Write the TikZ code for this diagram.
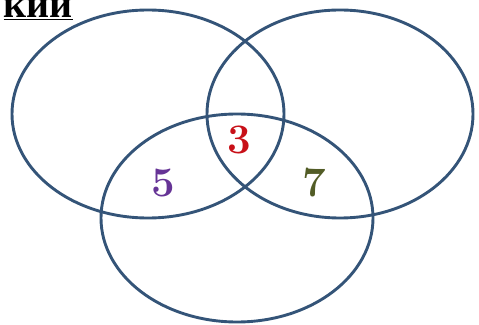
\documentclass[tikz,border=0pt]{standalone}
\usepackage{fontspec}
\newfontfamily\cyrfont{Liberation Serif}
\usetikzlibrary{positioning}
\definecolor{vennline}{RGB}{52,84,120}
\definecolor{numred}{RGB}{200,16,24}
\definecolor{numpurple}{RGB}{102,52,150}
\definecolor{numolive}{RGB}{82,92,38}
\tikzset{
  setline/.style = {draw=vennline, line width=2.9pt},
  num/.style     = {font=\fontsize{42}{42}\selectfont\bfseries, inner sep=0pt}
}
\begin{document}
\begin{tikzpicture}[x=1pt, y=1pt]
\useasboundingbox (0,0) rectangle (479,324);
\clip (0,0) rectangle (479,324);

% heading, cut by the frame
\node[anchor=base east, inner sep=0pt, font=\cyrfont\bfseries\fontsize{40}{40}\selectfont]
  (head) at (73,306) {\underline{кии}};

% the three sets
\draw[setline] (148,210) ellipse [x radius=136pt, y radius=104pt];
\draw[setline] (340,210) ellipse [x radius=133pt, y radius=104pt];
\draw[setline] (237,106) ellipse [x radius=136pt, y radius=104pt];

\node[num, text=numred]    (n3) at (239,184) {3};
\node[num, text=numpurple] (n5) at (163,141) {5};
\node[num, text=numolive]  (n7) at (314,141) {7};

\end{tikzpicture}
\end{document}
